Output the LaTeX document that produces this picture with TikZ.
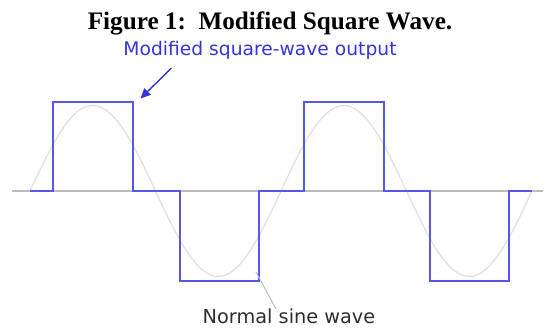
\documentclass[tikz,border=0pt]{standalone}
\usepackage{fontspec}
\setmainfont{Liberation Serif}
\newfontfamily\wavefont{DejaVu Sans}
\usepackage{tikz}
\usetikzlibrary{arrows.meta, positioning, calc}

\definecolor{waveblue}{RGB}{88,88,232}
\definecolor{labelblue}{RGB}{52,52,218}
\definecolor{axisgray}{RGB}{188,188,188}
\definecolor{sinegray}{RGB}{224,224,224}
\definecolor{notegray}{RGB}{45,45,45}

\begin{document}
\begin{tikzpicture}[
    x=1pt, y=-1pt,
    titletext/.style={anchor=base, inner sep=0pt, font=\fontsize{25.2}{30}\selectfont\bfseries},
    wavelabel/.style={anchor=base, inner sep=0pt, font=\wavefont\fontsize{18.7}{22}\selectfont, text=labelblue},
    sinelabel/.style={anchor=base, inner sep=0pt, font=\wavefont\fontsize{19.3}{23}\selectfont, text=notegray},
    axisline/.style={draw=axisgray, line width=1.5pt},
    sinecurve/.style={draw=sinegray, line width=1.3pt},
    squarewave/.style={draw=waveblue, line width=2pt, line join=miter},
    arrow/.style={-{Triangle[length=10pt, width=9pt]}, draw=labelblue, fill=labelblue, line width=1.4pt},
    pointer/.style={draw=axisgray, line width=1pt},
  ]
  \useasboundingbox (0,0) rectangle (545,327);

  % Title
  \node[titletext] (title) at (270,29) {Figure 1:\ \ Modified Square Wave.};

  % Zero axis
  \coordinate (axisL) at (12,191);
  \coordinate (axisR) at (543,191);
  \draw[axisline] (axisL) -- (axisR);

  % Normal sine wave (period 251)
  \draw[sinecurve] plot[domain=30:532, samples=140, smooth] (\x, {191 - 85.5*sin(1.434263*(\x-30))});

  % Modified square wave
  \draw[squarewave] (30,191) -- (53,191) -- (53,101.7) -- (133,101.7) -- (133,191)
    -- (180,191) -- (180,281) -- (259,281) -- (259,191)
    -- (304,191) -- (304,101.7) -- (384,101.7) -- (384,191)
    -- (430,191) -- (430,281) -- (509,281) -- (509,191) -- (532,191);

  % Labels
  \node[wavelabel] (outlabel) at (260,55.5) {Modified square-wave output};
  \node[sinelabel] (sinelbl) at (289,323.5) {Normal sine wave};

  \coordinate (arrtail) at (171.5,68);
  \coordinate (arrtip) at (140.5,98.5);
  \draw[arrow] (arrtail) -- (arrtip);

  \coordinate (sinept) at (256,272);
  \coordinate (sinelead) at (276,309);
  \draw[pointer] (sinept) -- (sinelead);

\end{tikzpicture}
\end{document}
